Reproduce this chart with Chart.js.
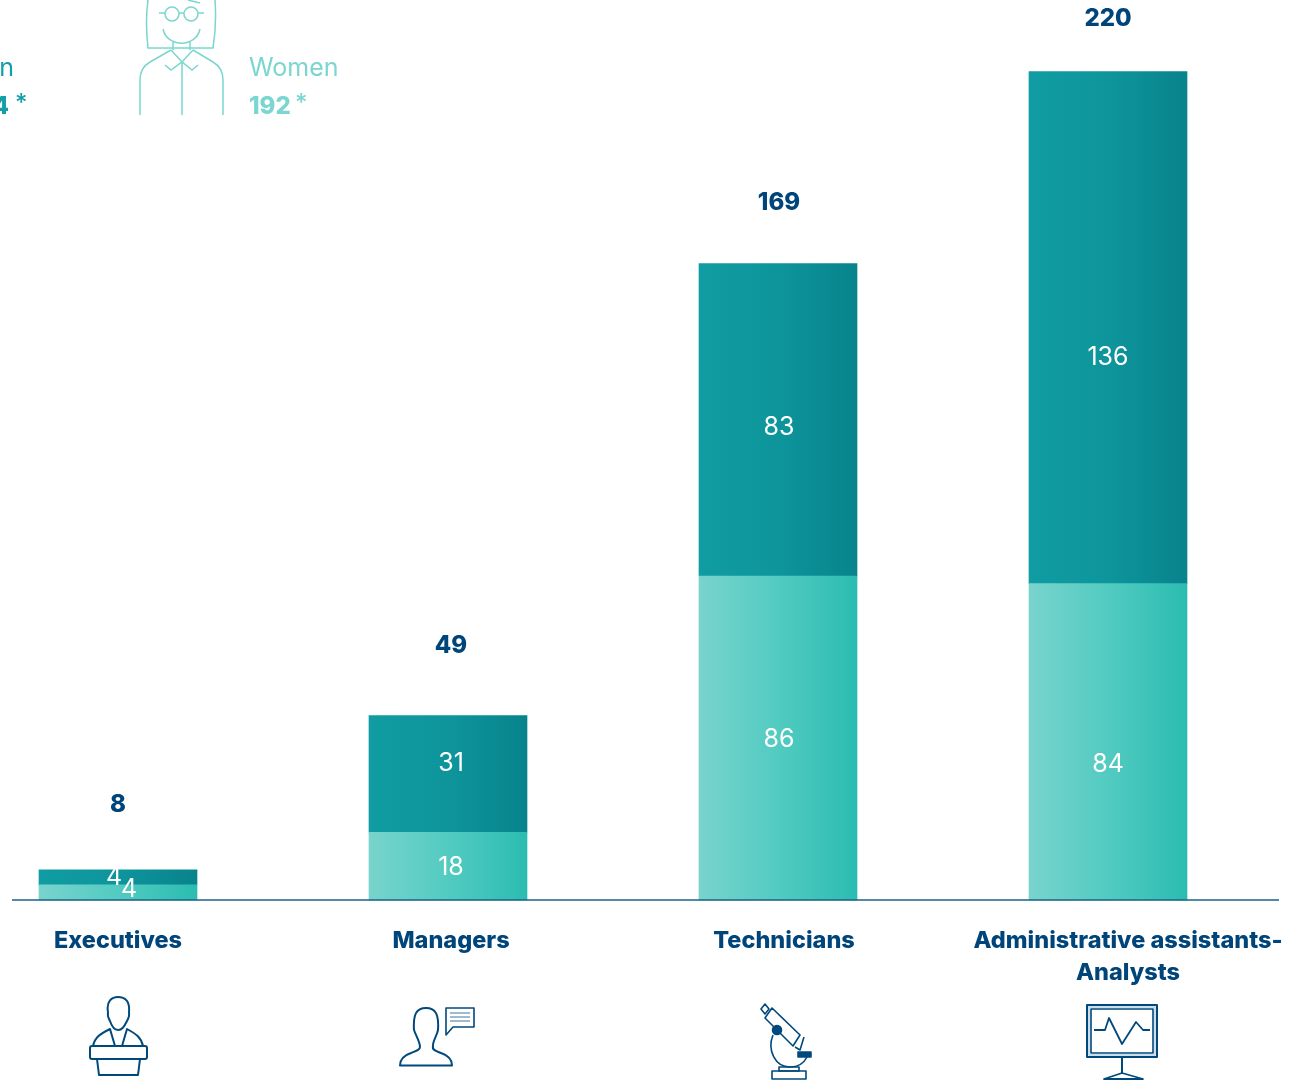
<!DOCTYPE html>
<html>
<head>
<meta charset="utf-8">
<title>Workforce by category</title>
<script src="https://cdn.jsdelivr.net/npm/chart.js@4"></script>
<style>
html, body { margin: 0; padding: 0; background: #fff; overflow: hidden; }
#wrap { position: relative; width: 1306px; height: 1080px; }
#chart { position: absolute; left: 0; top: 0; }
svg.icons { position: absolute; left: 0; top: 0; pointer-events: none; }
svg.icons .navy { fill: none; stroke: #00497d; stroke-width: 2; stroke-linejoin: round; }
svg.icons .woman { fill: none; stroke: #7ad6cf; stroke-width: 1.5; }
</style>
</head>
<body>
<div id="wrap">
  <canvas id="chart" width="1306" height="1080"></canvas>
  <svg class="icons" width="1306" height="1080" viewBox="0 0 1306 1080">
    <!-- woman, top of the page -->
    <g class="woman">
      <path d="M148,0 C146,14 146,30 148,48 H213 C216,30 216,14 215,0"/>
      <path d="M188,0 L200,3"/>
      <circle cx="172" cy="14" r="7"/><circle cx="191" cy="14" r="7"/>
      <path d="M159,13 H165 M179,13 H184 M198,13 H204"/>
      <path d="M163,29 C167,48 196,48 200,29"/>
      <path d="M173,42 V50 M190,42 V50"/>
      <path d="M171,50 L182,62 L193,50 M165,65 L171,70 L182,62 L192,70 L198,65"/>
      <path d="M171,50 L150,62 C143,66 140,71 140,80 V115 M193,50 L213,62 C220,66 223,71 223,80 V115 M182,62 V115"/>
    </g>
    <!-- executives -->
    <g class="navy">
      <path d="M110,1021 C107,1016 108,1014 108,1012 C106,1001 112,997 118,997 C125,997 130,1001 129,1012 C129,1014 130,1016 127,1021 C124,1027 122,1030 118,1030 C114,1030 112,1027 110,1021 Z"/>
      <path d="M93,1046 C95,1037 100,1034 110,1029 L115,1046 M143,1046 C141,1037 136,1034 127,1029 L122,1046"/>
      <rect x="90" y="1046" width="57" height="13" rx="2"/>
      <path d="M97,1059 L99,1075 H138 L140,1059"/>
    </g>
    <!-- managers -->
    <g class="navy">
      <path d="M400,1065.5 H452 C452,1058 447,1055 441,1053 C436,1051 432,1050 433,1047 C432,1042 437,1036 438,1030 C439,1015 436,1008 426,1008 C416,1008 413,1015 414,1030 C416,1036 420,1042 420,1047 C420,1050 416,1051 411,1053 C405,1055 400,1058 400,1065.5 Z"/>
      <path d="M446,1008 H474 V1027 H453 L446,1035 Z" stroke-width="1.6"/>
      <path d="M450,1013 H470 M450,1017 H470 M450,1021 H470" stroke-width="1" opacity="0.75"/>
    </g>
    <!-- technicians -->
    <g class="navy" style="stroke-width:1.6">
      <path d="M765,1018 L772,1008 L800,1035 L793,1046 Z"/>
      <path d="M761,1009 L765,1004 L769,1009 L765,1014 Z"/>
      <path d="M795,1047 L800,1050 L804,1037"/>
      <circle cx="777" cy="1030" r="4.5" fill="#00497d"/>
      <path d="M773,1035 C767,1050 775,1067 790,1067 C798,1067 804,1063 807,1057"/>
      <rect x="798" y="1052" width="13" height="5" fill="#00497d"/>
      <rect x="779" y="1067" width="20" height="4"/>
      <rect x="772" y="1071" width="34" height="8"/>
    </g>
    <!-- administrative assistants - analysts -->
    <g class="navy">
      <rect x="1087" y="1005" width="70" height="52"/>
      <rect x="1091" y="1009" width="62" height="44" stroke-width="1.6"/>
      <path d="M1089,1007 H1155 V1055 H1089 Z" stroke="#bcd3e2" stroke-width="1.5"/>
      <path d="M1094,1030 H1105 L1109,1018 L1122,1044 L1136,1022 L1143,1030 H1150" stroke-width="1.8"/>
      <path d="M1122,1057 V1073"/>
      <path d="M1104,1079 L1122,1073 L1143,1079 Z" stroke-width="1.8"/>
    </g>
  </svg>
</div>
<script>
var categories = ['Executives', 'Managers', 'Technicians', 'Administrative assistants-\nAnalysts'];
var womenValues = [4, 18, 86, 84];
var menValues = [4, 31, 83, 136];
var totals = [8, 49, 169, 220];
var legendNames = ['Men', 'Women'];
var legendTotals = ['254', '192'];

var NAVY = '#00457a', FONT = 'Inter, "Open Sans", sans-serif';

// label nudges in px, the original layout does not centre them
var womenNudge = [[11, -3], [3, 1], [1, 1], [0, 23]];
var menNudge = [[-4, 0], [3, -10], [1, 8], [0, 30]];
var totalNudge = [-65, -70, -61, -53];
var totalShift = [0, 3, 1, 0];
var catShift = [0, 3, 6, 20];

function barGradient(stops) {
    return function(ctx) {
        var chart = ctx.chart;
        if (!chart.scales.x || ctx.dataIndex === undefined) return stops[0];
        var x = chart.scales.x.getPixelForValue(ctx.dataIndex);
        if (!isFinite(x)) return stops[0];
        var g = chart.ctx.createLinearGradient(x - 79, 0, x + 79, 0);
        stops.forEach(function(c, i) { g.addColorStop(i / (stops.length - 1), c); });
        return g;
    };
}

function text(c, str, x, y, font, color, align) {
    c.font = font;
    c.fillStyle = color;
    c.textAlign = align || 'center';
    c.textBaseline = 'middle';
    c.fillText(str, x, y);
}

var labelsPlugin = {
    id: 'labelsPlugin',
    afterDatasetsDraw: function(chart) {
        var c = chart.ctx, xs = chart.scales.x, ys = chart.scales.y;
        c.save();

        // baseline runs past the bars on both sides
        c.strokeStyle = '#1b6288';
        c.lineWidth = 1.5;
        c.beginPath();
        c.moveTo(12, ys.getPixelForValue(0));
        c.lineTo(1279, ys.getPixelForValue(0));
        c.stroke();

        categories.forEach(function(cat, i) {
            var x = xs.getPixelForValue(i);
            var w = chart.getDatasetMeta(0).data[i], m = chart.getDatasetMeta(1).data[i];
            text(c, String(womenValues[i]), x + womenNudge[i][0], (w.y + w.base) / 2 + womenNudge[i][1], '400 25px ' + FONT, '#fff');
            text(c, String(menValues[i]), x + menNudge[i][0], (m.y + m.base) / 2 + menNudge[i][1], '400 25px ' + FONT, '#fff');
            text(c, String(totals[i]), x + totalShift[i], m.y + totalNudge[i], '800 24px ' + FONT, NAVY);
            cat.split('\n').forEach(function(line, n) {
                text(c, line, x + catShift[i], 941 + n * 32, '800 23.5px ' + FONT, NAVY);
            });
        });

        // legend, cut by the left edge just like the source
        text(c, legendNames[0], 14, 68, '400 25px ' + FONT, '#149ea5', 'right');
        text(c, legendTotals[0], 9, 107, '800 24px ' + FONT, '#149ea5', 'right');
        text(c, '*', 15, 104, '500 24px ' + FONT, '#149ea5', 'left');
        text(c, legendNames[1], 249, 68, '400 25px ' + FONT, '#7ad6cf', 'left');
        text(c, legendTotals[1], 249, 107, '800 24px ' + FONT, '#7ad6cf', 'left');
        text(c, '*', 295, 104, '500 24px ' + FONT, '#7ad6cf', 'left');
        c.restore();
    }
};

new Chart(document.getElementById('chart').getContext('2d'), {
    type: 'bar',
    data: {
        labels: categories,
        datasets: [
            {
                label: legendNames[1],
                data: womenValues,
                backgroundColor: barGradient(['#78d4cd', '#52cbc1', '#2bbcb1']),
                barThickness: 158,
                clip: false
            },
            {
                label: legendNames[0],
                data: menValues,
                backgroundColor: barGradient(['#109ca2', '#0e959c', '#08838c']),
                barThickness: 158,
                clip: false
            }
        ]
    },
    options: {
        responsive: false,
        animation: false,
        layout: { padding: { left: 118, right: 198, top: 0, bottom: 180 } },
        plugins: { legend: { display: false }, tooltip: { enabled: false } },
        scales: {
            x: { stacked: true, offset: false, display: false },
            y: { stacked: true, min: 0, max: 239, display: false }
        }
    },
    plugins: [labelsPlugin]
});
</script>
</body>
</html>
